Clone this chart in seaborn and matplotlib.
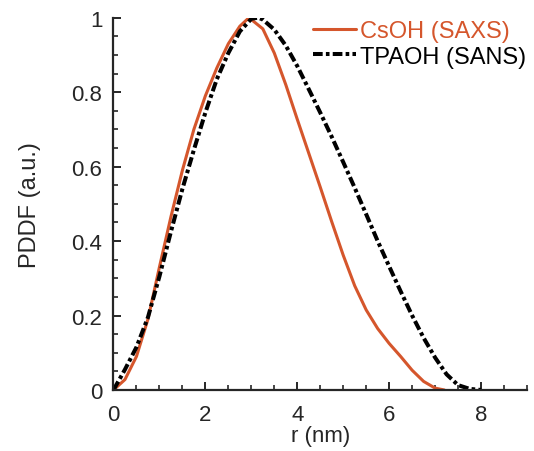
import numpy as np
import matplotlib
matplotlib.use("Agg")
import matplotlib.pyplot as plt
from matplotlib.ticker import MultipleLocator, FormatStrFormatter
import seaborn as sns

# CsOH (SAXS) pair distance distribution
r_csoh = [0, 0.25, 0.5, 0.75, 1.0, 1.25, 1.5, 1.75, 2.0, 2.25, 2.5, 2.75, 2.95,
          3.25, 3.5, 3.75, 4.0, 4.25, 4.5, 4.75, 5.0, 5.25, 5.5, 5.75, 6.0,
          6.25, 6.5, 6.75, 7.0, 7.2]
p_csoh = [0, 0.028, 0.09, 0.19, 0.33, 0.465, 0.59, 0.70, 0.79, 0.865, 0.93, 0.977, 1.0,
          0.97, 0.905, 0.82, 0.727, 0.636, 0.545, 0.452, 0.362, 0.28, 0.215, 0.165, 0.125,
          0.09, 0.053, 0.023, 0.005, 0]

# TPAOH (SANS)
r_tpaoh = [0, 0.25, 0.5, 0.75, 1.0, 1.25, 1.5, 1.75, 2.0, 2.25, 2.5, 2.75, 3.0, 3.15,
           3.25, 3.5, 3.75, 4.0, 4.25, 4.5, 4.75, 5.0, 5.25, 5.5, 5.75, 6.0,
           6.25, 6.5, 6.75, 7.0, 7.25, 7.5, 7.75, 8.0]
p_tpaoh = [0, 0.055, 0.115, 0.195, 0.305, 0.425, 0.54, 0.645, 0.745, 0.835, 0.905, 0.963, 0.997, 1.0,
           0.995, 0.968, 0.925, 0.87, 0.808, 0.745, 0.68, 0.612, 0.543, 0.472, 0.40, 0.332,
           0.265, 0.20, 0.14, 0.087, 0.042, 0.013, 0.003, 0]

x_ticks = [0, 2, 4, 6, 8]
y_ticks = [0, 0.2, 0.4, 0.6, 0.8, 1.0]

orange = '#D5562C'

sns.set_style('ticks')
plt.rcParams['font.family'] = ['Liberation Sans', 'DejaVu Sans']

fig = plt.figure(figsize=(5.34, 4.52), dpi=100)
ax = fig.add_axes([0.2125, 0.135, 0.7744, 0.8237])

sns.lineplot(x=r_csoh, y=p_csoh, ax=ax, color=orange, linewidth=2.2,
             label='CsOH (SAXS)')
line = sns.lineplot(x=r_tpaoh, y=p_tpaoh, ax=ax, color='black', linewidth=2.9,
                    label='TPAOH (SANS)').lines[-1]
line.set_dashes([2.4, 0.8, 0.9, 0.8])

ax.set_xlim(0, 9)
ax.set_ylim(0, 1)
ax.set_xticks(x_ticks)
ax.set_yticks(y_ticks)
ax.xaxis.set_minor_locator(MultipleLocator(0.5))
ax.yaxis.set_minor_locator(MultipleLocator(0.05))
ax.yaxis.set_major_formatter(FormatStrFormatter('%g'))

ax.tick_params(which='major', direction='in', length=6, width=1.4, labelsize=16)
ax.tick_params(axis='x', which='major', pad=10)
ax.tick_params(axis='y', which='major', pad=8)
ax.tick_params(which='minor', direction='in', length=3.5, width=1.2)
for s in ['left', 'bottom']:
    ax.spines[s].set_linewidth(1.6)
sns.despine(ax=ax)

ax.set_xlabel('r (nm)', fontsize=16, labelpad=0)
ax.set_ylabel('PDDF (a.u.)', fontsize=17, labelpad=22)

ax.legend(loc='upper left', bbox_to_anchor=(313 / 534, 1 - 21 / 452),
          bbox_transform=fig.transFigure, frameon=False, borderpad=0,
          borderaxespad=0, fontsize=17, handlelength=1.8, handletextpad=0.2,
          labelspacing=0.15, labelcolor='linecolor')

fig.savefig('out.png', dpi=100)
